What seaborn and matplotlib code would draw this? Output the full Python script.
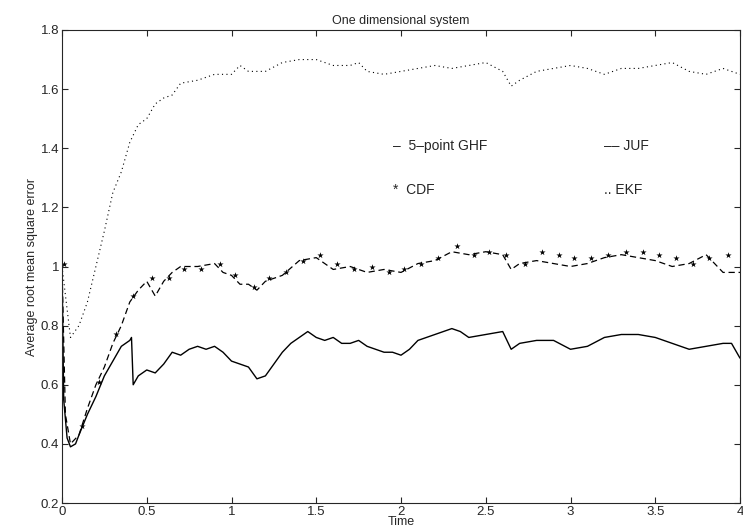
import matplotlib
matplotlib.use("Agg")
import matplotlib.pyplot as plt
import seaborn as sns
import pandas as pd

t_ghf = [0,0.01,0.03,0.05,0.08,0.1,0.15,0.2,0.25,0.3,0.35,0.4,0.41,0.42,0.45,0.5,0.55,0.6,0.65,0.7,0.75,0.8,0.85,0.9,0.95,1.0,1.05,1.1,1.15,1.2,1.25,1.3,1.35,1.4,1.45,1.5,1.55,1.6,1.65,1.7,1.75,1.8,1.85,1.9,1.95,2.0,2.05,2.1,2.2,2.3,2.35,2.4,2.5,2.6,2.65,2.7,2.8,2.9,3.0,3.1,3.2,3.3,3.4,3.5,3.6,3.7,3.8,3.9,3.95,4.0]
ghf = [1.0,0.55,0.42,0.39,0.40,0.43,0.50,0.56,0.63,0.68,0.73,0.75,0.76,0.60,0.63,0.65,0.64,0.67,0.71,0.70,0.72,0.73,0.72,0.73,0.71,0.68,0.67,0.66,0.62,0.63,0.67,0.71,0.74,0.76,0.78,0.76,0.75,0.76,0.74,0.74,0.75,0.73,0.72,0.71,0.71,0.70,0.72,0.75,0.77,0.79,0.78,0.76,0.77,0.78,0.72,0.74,0.75,0.75,0.72,0.73,0.76,0.77,0.77,0.76,0.74,0.72,0.73,0.74,0.74,0.69]

t_juf = [0,0.02,0.05,0.1,0.15,0.2,0.25,0.3,0.35,0.4,0.45,0.5,0.55,0.6,0.65,0.7,0.8,0.9,0.95,1.0,1.05,1.1,1.15,1.2,1.3,1.4,1.5,1.55,1.6,1.7,1.8,1.9,2.0,2.1,2.2,2.3,2.4,2.5,2.6,2.65,2.7,2.8,2.9,3.0,3.1,3.2,3.3,3.4,3.5,3.6,3.7,3.8,3.9,4.0]
juf = [1.0,0.50,0.40,0.43,0.52,0.60,0.66,0.74,0.80,0.88,0.92,0.95,0.90,0.95,0.98,1.00,1.00,1.01,0.98,0.97,0.94,0.94,0.92,0.95,0.97,1.02,1.03,1.01,0.99,1.00,0.98,0.99,0.98,1.01,1.02,1.05,1.04,1.05,1.04,0.99,1.01,1.02,1.01,1.00,1.01,1.03,1.04,1.03,1.02,1.00,1.01,1.04,0.98,0.98]

t_cdf = [0.01,0.12,0.22,0.32,0.42,0.53,0.63,0.72,0.82,0.93,1.02,1.13,1.22,1.32,1.42,1.52,1.62,1.72,1.83,1.93,2.02,2.12,2.22,2.33,2.43,2.52,2.62,2.73,2.83,2.93,3.02,3.12,3.22,3.33,3.43,3.52,3.62,3.72,3.82,3.93]
cdf = [1.01,0.46,0.61,0.77,0.90,0.96,0.96,0.99,0.99,1.01,0.97,0.93,0.96,0.98,1.02,1.04,1.01,0.99,1.00,0.98,0.99,1.01,1.03,1.07,1.04,1.05,1.04,1.01,1.05,1.04,1.03,1.03,1.04,1.05,1.05,1.04,1.03,1.01,1.03,1.04]

t_ekf = [0,0.05,0.1,0.15,0.2,0.25,0.3,0.35,0.4,0.45,0.5,0.55,0.6,0.65,0.7,0.8,0.9,1.0,1.05,1.1,1.2,1.3,1.4,1.5,1.6,1.7,1.75,1.8,1.9,2.0,2.1,2.2,2.3,2.4,2.5,2.6,2.65,2.7,2.8,2.9,3.0,3.1,3.2,3.3,3.4,3.5,3.6,3.7,3.8,3.9,4.0]
ekf = [1.0,0.76,0.80,0.88,1.0,1.12,1.25,1.32,1.42,1.48,1.50,1.55,1.57,1.58,1.62,1.63,1.65,1.65,1.68,1.66,1.66,1.69,1.70,1.70,1.68,1.68,1.69,1.66,1.65,1.66,1.67,1.68,1.67,1.68,1.69,1.66,1.61,1.63,1.66,1.67,1.68,1.67,1.65,1.67,1.67,1.68,1.69,1.66,1.65,1.67,1.65]

sns.set_style("ticks", {"xtick.direction": "in", "ytick.direction": "in"})
plt.rcParams["font.family"] = ["Liberation Sans", "DejaVu Sans"]

fig = plt.figure(figsize=(7.43, 5.29), dpi=100)
ax = fig.add_axes([62/743, 1-503/529, 678/743, 473/529])

sns.lineplot(x=t_ekf, y=ekf, ax=ax, color="black", lw=0.8, linestyle=(0, (1, 3)))
sns.lineplot(x=t_juf, y=juf, ax=ax, color="black", lw=0.9, linestyle=(0, (5, 3)))
sns.lineplot(x=t_ghf, y=ghf, ax=ax, color="black", lw=1.0)
sns.scatterplot(x=t_cdf, y=cdf, ax=ax, color="black", marker="*", s=22, linewidth=0)

ax.set_xlim(0, 4)
ax.set_ylim(0.2, 1.8)
ax.set_xticks([0,0.5,1,1.5,2,2.5,3,3.5,4])
ax.set_xticklabels(["0","0.5","1","1.5","2","2.5","3","3.5","4"])
ax.set_yticks([0.2,0.4,0.6,0.8,1.0,1.2,1.4,1.6,1.8])
ax.set_yticklabels(["0.2","0.4","0.6","0.8","1","1.2","1.4","1.6","1.8"])
ax.tick_params(labelsize=9.5, top=True, right=True, length=4, pad=2)
for s in ax.spines.values():
    s.set_visible(True); s.set_linewidth(0.8)
ax.set_xlabel("Time", fontsize=9, labelpad=-1)
ax.set_ylabel("Average root mean square error", fontsize=9, labelpad=2)
ax.set_title("One dimensional system", fontsize=9, pad=4)

kw = dict(fontsize=10, transform=ax.transData)
ax.text(1.95, 1.395, "–  5–point GHF", **kw)
ax.text(3.2, 1.395, "–– JUF", **kw)
ax.text(1.95, 1.245, "*  CDF", **kw)
ax.text(3.2, 1.245, ".. EKF", **kw)

fig.savefig("out.png", dpi=100)
